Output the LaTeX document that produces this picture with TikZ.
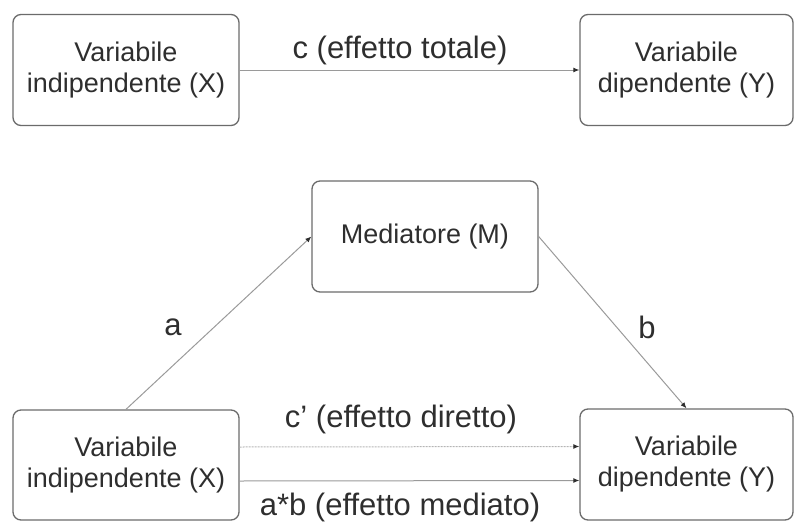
\documentclass[tikz,border=0pt]{standalone}
\usepackage{fontspec}
\setmainfont{Liberation Sans}
\usetikzlibrary{arrows.meta, positioning}
\definecolor{boxBd}{HTML}{6B6B6B}
\definecolor{txtClr}{HTML}{2E2E2E}
\definecolor{lineClr}{HTML}{9A9A9A}
\definecolor{tipClr}{HTML}{2E2E2E}
\definecolor{dirClr}{HTML}{B5B5B5}

\begin{document}
\begin{tikzpicture}[
  x=1pt, y=-1pt,
  font=\fontsize{27}{31}\selectfont, text=txtClr,
  varbox/.style={rounded corners=8pt, draw=boxBd, line width=1.3pt,
                 minimum width=226pt, minimum height=111pt, align=center,
                 inner sep=0pt},
  path/.style={draw=lineClr, line width=1pt,
               -{Latex[length=6pt, width=5pt, color=tipClr]}},
  lbl/.style={font=\fontsize{31}{35}\selectfont, inner sep=0pt},
]
\useasboundingbox (0,0) rectangle (795,522);

% ---------- total effect ----------
\node[varbox] (xtop) at (126,70) {Variabile\\indipendente (X)};
\node[varbox, minimum width=213pt] (ytop) at (686.5,70) {Variabile\\dipendente (Y)};
\draw[path] (xtop) -- (ytop);
\node[lbl] (ctot) at (400,50) {c (effetto totale)};

% ---------- mediation model ----------
\node[varbox] (med) at (425,236.5) {Mediatore (M)};
\node[varbox, minimum height=110pt] (xbot) at (126,465) {Variabile\\indipendente (X)};
\node[varbox, minimum width=213pt, minimum height=111pt] (ybot) at (686.5,464.5) {Variabile\\dipendente (Y)};

\draw[path] (xbot.north) -- (med.west);
\draw[path] (med.east) -- (ybot.north);
\draw[path, draw=dirClr, dash pattern=on 2pt off 1pt]
  ([yshift=18pt]xbot.east) -- ([yshift=18pt]ybot.west);
\draw[path] ([yshift=-16pt]xbot.east) -- ([yshift=-16pt]ybot.west);

\node[lbl] (la) at (173,327) {a};
\node[lbl] (lb) at (647,327) {b};
\node[lbl] (cdir) at (401,419) {c’ (effetto diretto)};
\node[lbl] (cmed) at (400,507) {a*b (effetto mediato)};

\end{tikzpicture}
\end{document}
